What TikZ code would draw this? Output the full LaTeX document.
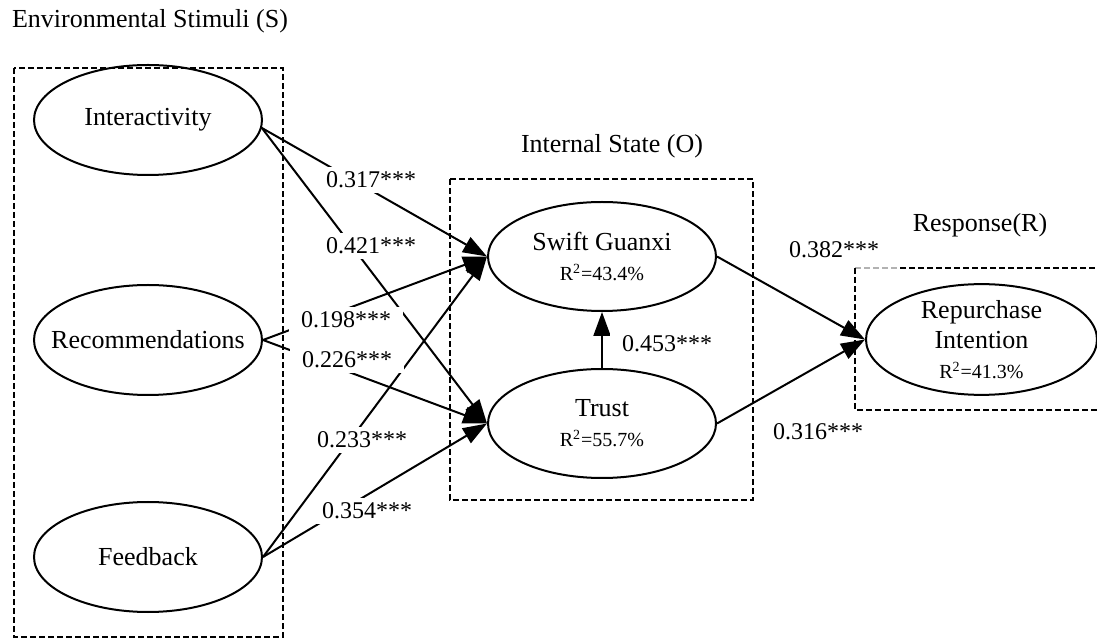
\documentclass[tikz,border=0pt]{standalone}
\usepackage{fontspec}
\setmainfont{Liberation Serif}
\usetikzlibrary{arrows.meta,shapes.geometric}

\begin{document}
\begin{tikzpicture}[x=0.5pt,y=-0.5pt,
  construct/.style={draw,line width=1pt,ellipse,inner sep=0pt,align=center,
    minimum width=114pt,minimum height=55pt,font=\fontsize{13}{15}\selectfont},
  link/.style={line width=1pt,-{Triangle[length=12pt,width=8.5pt]}},
  coef/.style={fill=white,inner xsep=6pt,inner ysep=2.5pt,font=\fontsize{12}{14}\selectfont},
  group/.style={line width=0.8pt,dash pattern=on 3pt off 1.5pt},
  heading/.style={font=\fontsize{13}{15}\selectfont}]
\useasboundingbox (0,0) rectangle (1097,640);
\draw[group] (14,68) rectangle (283,637);
\draw[group] (450,179) rectangle (753,500);
\draw[group,gray!60] (855,268) -- (900,268);
\draw[group] (900,268) -- (1097,268);
\draw[group] (855,268) -- (855,410) -- (1097,410);
\node[heading] (stimuli) at (150,21) {Environmental Stimuli (S)};
\node[heading] (organism) at (612,146) {Internal State (O)};
\node[heading] (response) at (980,225) {Response(R)};
\node[construct] (int) at (148,120) {Interactivity};
\node[construct] (rec) at (148,340) {\makebox[0pt]{Recommendations}};
\node[construct] (fb) at (148,557) {Feedback};
\node[construct,minimum height=54.5pt] (sg) at (602,256.5) {Swift Guanxi\\{\fontsize{10}{12}\selectfont R\textsuperscript{2}=43.4\%}};
\node[construct,minimum height=54.5pt] (tr) at (602,423.5) {Trust\\{\fontsize{10}{12}\selectfont R\textsuperscript{2}=55.7\%}};
\node[construct,minimum width=115.5pt] (ri) at (981.5,339.5) {Repurchase\\Intention\\{\fontsize{10}{12}\selectfont R\textsuperscript{2}=41.3\%}};
\draw[link] (int.-4) -- (sg.west);
\draw[link] (int.-4) -- (tr.west);
\draw[link] (rec.east) -- (sg.west);
\draw[link] (rec.east) -- (tr.west);
\draw[link] (fb.east) -- (sg.west);
\draw[link] (fb.east) -- (tr.west);
\draw[link] (tr.north) -- (sg.south);
\draw[link] (sg.east) -- (ri.west);
\draw[link] (tr.east) -- (ri.west);
\node[coef] (c317) at (371,180) {0.317***};
\node[coef] (c421) at (371,246) {0.421***};
\node[coef] (c198) at (346,320) {0.198***};
\node[coef] (c226) at (347,360) {0.226***};
\node[coef] (c233) at (362,440) {0.233***};
\node[coef] (c354) at (367,511) {0.354***};
\node[coef] (c453) at (667,344) {0.453***};
\node[coef] (c382) at (834,250) {0.382***};
\node[coef] (c316) at (818,432) {0.316***};
\end{tikzpicture}
\end{document}
